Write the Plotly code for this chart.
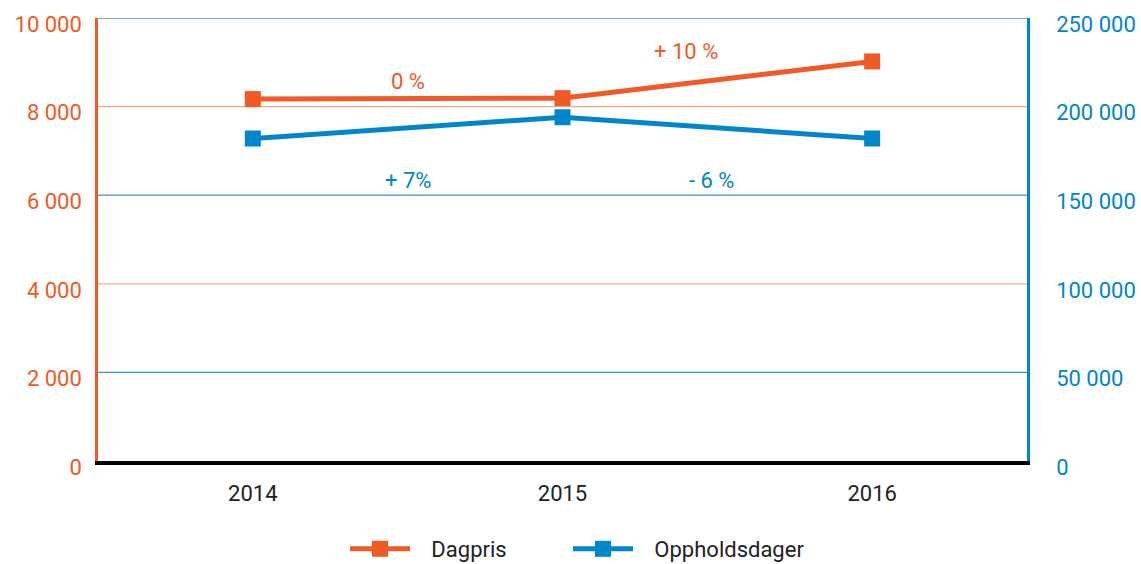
import plotly.graph_objects as go

# Years and series
years = ["2014", "2015", "2016"]
dagpris = [8170, 8190, 9020]
oppholdsdager = [182000, 194000, 182000]

# Change labels between years
dagpris_changes = ["0 %", "+ 10 %"]
opphold_changes = ["+ 7%", "- 6 %"]

# Axis tick labels
left_ticks = [0, 2000, 4000, 6000, 8000, 10000]
left_text = ["0", "2 000", "4 000", "6 000", "8 000", "10 000"]
right_ticks = [0, 50000, 100000, 150000, 200000, 250000]
right_text = ["0", "50 000", "100 000", "150 000", "200 000", "250 000"]

ORANGE = "#F15A24"
BLUE = "#0086CA"
ORANGE_GRID = "#F9A98A"
BLUE_GRID = "#3397D2"
FONT = "Roboto"
FS = 22
GAP = "\u00a0\u00a0\u00a0"  # space between legend symbol and label

# Plot area in pixels
W, H = 1141, 564
L, R, T, B = 98, 114, 18, 103
plot_top, plot_bottom = T, H - B

fig = go.Figure()

fig.add_trace(go.Scatter(
    x=years, y=dagpris, name=GAP + "Dagpris", mode="lines+markers",
    line=dict(color=ORANGE, width=5),
    marker=dict(symbol="square", size=16, color=ORANGE),
    yaxis="y", legend="legend",
))
fig.add_trace(go.Scatter(
    x=years, y=oppholdsdager, name=GAP + "Oppholdsdager", mode="lines+markers",
    line=dict(color=BLUE, width=5),
    marker=dict(symbol="square", size=16, color=BLUE),
    yaxis="y2", legend="legend2",
))

# Horizontal gridlines: orange on the left scale, blue on the right scale
shapes = []
for v in [4000, 8000]:
    shapes.append(dict(type="line", xref="paper", x0=0, x1=1, yref="y", y0=v, y1=v,
                       line=dict(color=ORANGE_GRID, width=1.3), layer="below"))
for v in [50000, 150000, 250000]:
    shapes.append(dict(type="line", xref="paper", x0=0, x1=1, yref="y2", y0=v, y1=v,
                       line=dict(color=BLUE_GRID, width=1.3), layer="below"))


def py(pixel_y):
    """Pixel row -> paper coordinate."""
    return (plot_bottom - pixel_y) / (plot_bottom - plot_top)


def px(pixel_x):
    """Pixel column -> paper coordinate."""
    return (pixel_x - L) / (W - L - R)


annotations = []
for t, xc, yc in zip(dagpris_changes, [0.5, 1.4], [82, 52]):
    annotations.append(dict(text=t, x=xc, y=py(yc), xref="x", yref="paper",
                            xanchor="center", yanchor="middle", showarrow=False,
                            font=dict(family=FONT, size=FS, color=ORANGE)))
for t, xc, yc in zip(opphold_changes, [0.5, 1.48], [180, 180]):
    annotations.append(dict(text=t, x=xc, y=py(yc), xref="x", yref="paper",
                            xanchor="center", yanchor="middle", showarrow=False,
                            font=dict(family=FONT, size=FS, color=BLUE)))

legend_style = dict(orientation="h", xanchor="left", y=py(549), yanchor="middle",
                    font=dict(family=FONT, size=FS, color="#222222"), itemwidth=60,
                    bgcolor="rgba(0,0,0,0)")

fig.update_layout(
    width=W, height=H,
    margin=dict(l=L, r=R, t=T, b=B, autoexpand=False),
    paper_bgcolor="white", plot_bgcolor="white",
    font=dict(family=FONT),
    showlegend=True,
    legend=dict(x=px(345), **legend_style),
    legend2=dict(x=px(568), **legend_style),
    xaxis=dict(
        type="category", range=[-0.5, 2.5],
        showgrid=False, zeroline=False,
        showline=True, linecolor="black", linewidth=4,
        ticks="", ticklabelstandoff=10,
        tickfont=dict(family=FONT, size=FS, color="#222222"),
    ),
    yaxis=dict(
        range=[0, 10000], tickvals=left_ticks, ticktext=left_text,
        showgrid=False, zeroline=False,
        showline=True, linecolor=ORANGE, linewidth=2.5,
        ticks="", ticklabelstandoff=9, ticklabelshift=6,
        tickfont=dict(family=FONT, size=FS, color=ORANGE),
    ),
    yaxis2=dict(
        range=[0, 250000], tickvals=right_ticks, ticktext=right_text,
        overlaying="y", side="right",
        showgrid=False, zeroline=False,
        showline=True, linecolor=BLUE, linewidth=2.5,
        ticks="", ticklabelstandoff=22, ticklabelshift=6,
        tickfont=dict(family=FONT, size=FS, color=BLUE),
    ),
    shapes=shapes,
    annotations=annotations,
)

fig.write_html("out.html")
